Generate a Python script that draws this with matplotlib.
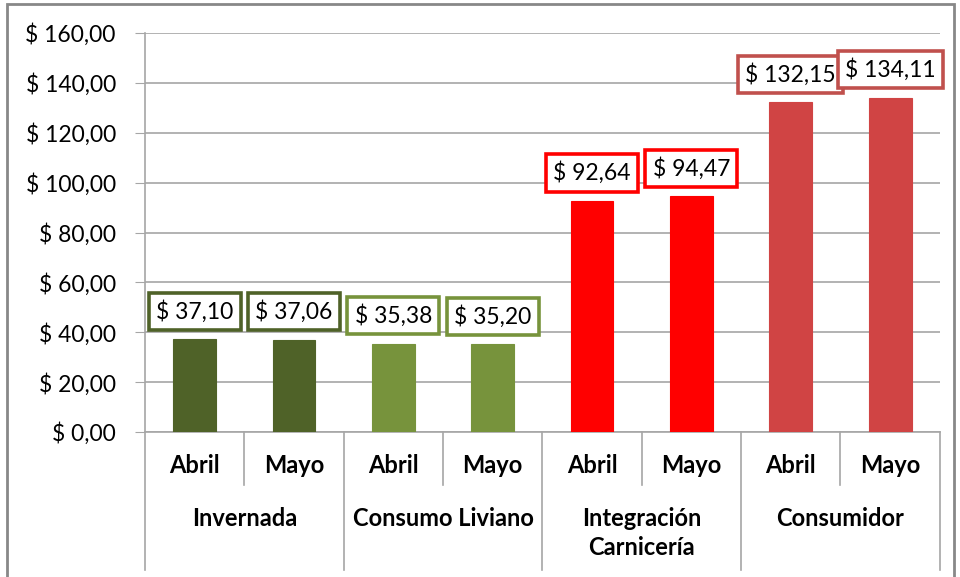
import matplotlib.pyplot as plt
from matplotlib.patches import Rectangle

# datos
grupos = ["Invernada", "Consumo Liviano", "Integración\nCarnicería", "Consumidor"]
meses = ["Abril", "Mayo"]
valores = [37.10, 37.06, 35.38, 35.20, 92.64, 94.47, 132.15, 134.11]
etiquetas = ["$ 37,10", "$ 37,06", "$ 35,38", "$ 35,20",
             "$ 92,64", "$ 94,47", "$ 132,15", "$ 134,11"]
colores_barra = ["#4F6228", "#4F6228", "#77933C", "#77933C",
                 "#FF0000", "#FF0000", "#D04444", "#D04444"]
colores_borde = ["#4F6228", "#4F6228", "#77933C", "#77933C",
                 "#FF0000", "#FF0000", "#C0504D", "#C0504D"]
yticks = [0, 20, 40, 60, 80, 100, 120, 140, 160]

plt.rcParams['font.family'] = ['Lato', 'DejaVu Sans']

fig = plt.figure(figsize=(9.6, 5.77), dpi=100)
ax = fig.add_axes([0.151, 0.2513, 0.828, 0.6915])

n = len(valores)
x = list(range(n))
ax.bar(x, valores, width=0.43, color=colores_barra, edgecolor=colores_barra,
       linewidth=0.8, zorder=3)

ax.set_xlim(-0.5, n - 0.5)
ax.set_ylim(0, 160)
ax.set_yticks(yticks)
ax.set_yticklabels(["$ %d,00" % v for v in yticks], fontsize=16.5)
ax.tick_params(axis='y', length=7, color='#A6A6A6', pad=14)
ax.set_xticks([])
ax.grid(axis='y', color='#A6A6A6', linewidth=1.2, zorder=0)
for s in ['top', 'right']:
    ax.spines[s].set_visible(False)
for s in ['left', 'bottom']:
    ax.spines[s].set_color('#A6A6A6')
    ax.spines[s].set_linewidth(1.2)

# etiquetas de datos
for xi, v, t, c in zip(x, valores, etiquetas, colores_borde):
    ax.annotate(t, (xi, v), xytext=(0, 28), textcoords='offset pixels',
                ha='center', va='center', fontsize=16.5, zorder=5,
                bbox=dict(boxstyle='square,pad=0.32', fc='white', ec=c, lw=2.6))

# ejes de categorías de varios niveles
tr = ax.get_xaxis_transform()
for i in range(n + 1):
    xl = i - 0.5
    if i % 2 == 0:
        ax.plot([xl, xl], [0, -0.346], transform=tr, color='#A6A6A6',
                lw=1.2, clip_on=False)
    else:
        ax.plot([xl, xl], [0, -0.133], transform=tr, color='#A6A6A6',
                lw=1.2, clip_on=False)

for i in range(n):
    ax.text(i, -0.085, meses[i % 2], transform=tr, ha='center', va='center',
            fontsize=17, fontweight='bold')

for g, nombre in enumerate(grupos):
    yy = -0.216 if "\n" not in nombre else -0.253
    ax.text(2 * g + 0.5, yy, nombre, transform=tr, ha='center', va='center',
            fontsize=17, fontweight='bold', linespacing=1.3)

# marco exterior
fig.patches.append(Rectangle((0.007, -0.01), 0.987, 1.003, transform=fig.transFigure,
                             fill=False, ec='#888888', lw=2))

fig.savefig("out.png", dpi=100)
